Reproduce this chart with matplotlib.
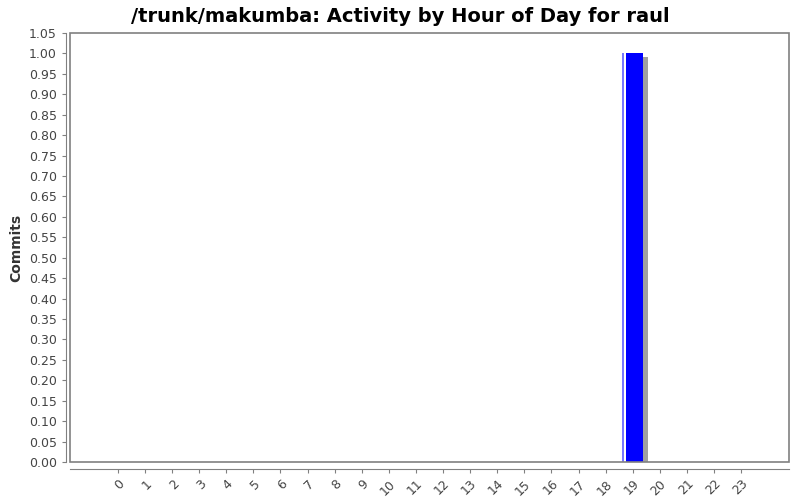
import numpy as np
import matplotlib.pyplot as plt
import matplotlib.transforms as mtransforms
from matplotlib.patches import Rectangle

# Datos: commits por hora del día
hours = np.arange(24)
commits = np.zeros(24)
commits[19] = 1

title = "/trunk/makumba: Activity by Hour of Day for raul"
ylabel = "Commits"

fig = plt.figure(figsize=(8, 5), dpi=100)
ax = fig.add_axes([0.0875, 0.076, 0.89875, 0.858])

w = 0.78
px = 1 / 27.09  # una unidad de categoría ~ 27 px
left = hours - w / 2

# sombra
shadow = mtransforms.offset_copy(ax.transData, fig=fig, x=5, y=-4, units='dots')
ax.bar(left, commits, width=w, align='edge', color='#a0a0a0',
       transform=shadow, zorder=1)
# barra con borde claro, línea blanca y relleno azul
ax.bar(left, commits, width=w, align='edge', color='#7878ff', zorder=2)
ax.bar(left + 2 * px, commits, width=1.5 * px, align='edge', color='white', zorder=3)
ax.bar(left + 4 * px, commits, width=w - 4 * px, align='edge', color='#0000ff', zorder=4)

ax.set_xlim(-1.77, 24.77)
ax.set_ylim(0, 1.05)
yt = np.arange(0, 1.0501, 0.05)
ax.set_yticks(yt)
ax.set_yticklabels([f"{v:.2f}" for v in yt])
ax.set_xticks(hours)
ax.set_xticklabels([str(h) for h in hours])

for s in ['top', 'right']:
    ax.spines[s].set_visible(False)
ax.spines['left'].set_position(('outward', 3))
ax.spines['bottom'].set_position(('outward', 5))
for s in ['left', 'bottom']:
    ax.spines[s].set_color('#808080')
# marco del área de dibujo
ax.add_patch(Rectangle((0, 0), 1, 1, transform=ax.transAxes, fill=False,
                       edgecolor='#808080', lw=1.2, clip_on=False, zorder=5))

ax.tick_params(axis='both', colors='#808080', labelcolor='#444444',
               labelsize=9, length=3)
ax.tick_params(axis='x', pad=3, labelrotation=45)
for lbl in ax.get_xticklabels():
    lbl.set_ha('right')
    lbl.set_rotation_mode('anchor')

ax.set_ylabel(ylabel, fontsize=10, fontweight='bold', color='#333333')
fig.suptitle(title, fontsize=14, fontweight='bold', x=0.5, y=0.985)

fig.savefig("out.png", dpi=100)
